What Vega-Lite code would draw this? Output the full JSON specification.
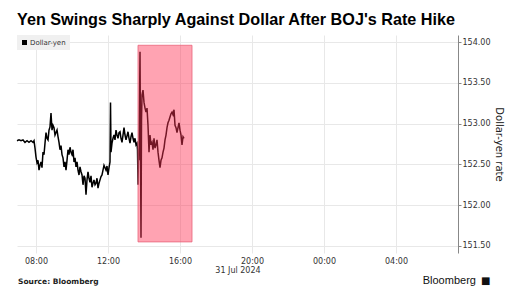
{
  "$schema": "https://vega.github.io/schema/vega-lite/v6.json",
  "autosize": "none",
  "width": 441,
  "height": 218,
  "padding": {"left": 17, "top": 35, "right": 59, "bottom": 43},
  "background": "white",
  "config": {"view": {"stroke": null}, "font": "DejaVu Sans"},
  "title": {
    "text": "Yen Swings Sharply Against Dollar After BOJ's Rate Hike",
    "anchor": "start",
    "frame": "group",
    "font": "Liberation Sans",
    "fontSize": 16.2,
    "fontWeight": "bold",
    "color": "#000000",
    "offset": 7
  },
  "datasets": {
    "fx": [
      {"t": 6.944, "v": 152.79}, {"t": 7.056, "v": 152.80}, {"t": 7.167, "v": 152.79}, {"t": 7.278, "v": 152.80},
      {"t": 7.389, "v": 152.77}, {"t": 7.5, "v": 152.79}, {"t": 7.611, "v": 152.77}, {"t": 7.722, "v": 152.79},
      {"t": 7.833, "v": 152.77}, {"t": 7.889, "v": 152.79}, {"t": 7.944, "v": 152.70}, {"t": 8.0, "v": 152.59},
      {"t": 8.056, "v": 152.52}, {"t": 8.111, "v": 152.55}, {"t": 8.167, "v": 152.43}, {"t": 8.222, "v": 152.49},
      {"t": 8.278, "v": 152.53}, {"t": 8.333, "v": 152.46}, {"t": 8.389, "v": 152.65}, {"t": 8.444, "v": 152.62},
      {"t": 8.5, "v": 152.76}, {"t": 8.556, "v": 152.89}, {"t": 8.611, "v": 152.82}, {"t": 8.667, "v": 152.80},
      {"t": 8.722, "v": 152.92}, {"t": 8.778, "v": 152.96}, {"t": 8.833, "v": 153.13}, {"t": 8.889, "v": 152.92},
      {"t": 8.944, "v": 152.98}, {"t": 9.0, "v": 152.95}, {"t": 9.056, "v": 152.86}, {"t": 9.111, "v": 152.89},
      {"t": 9.167, "v": 152.92}, {"t": 9.222, "v": 152.84}, {"t": 9.278, "v": 152.77}, {"t": 9.333, "v": 152.68},
      {"t": 9.389, "v": 152.73}, {"t": 9.444, "v": 152.62}, {"t": 9.5, "v": 152.58}, {"t": 9.556, "v": 152.47},
      {"t": 9.611, "v": 152.53}, {"t": 9.667, "v": 152.43}, {"t": 9.722, "v": 152.55}, {"t": 9.778, "v": 152.68},
      {"t": 9.833, "v": 152.62}, {"t": 9.889, "v": 152.71}, {"t": 9.944, "v": 152.65}, {"t": 10.0, "v": 152.62},
      {"t": 10.056, "v": 152.68}, {"t": 10.111, "v": 152.53}, {"t": 10.167, "v": 152.58}, {"t": 10.222, "v": 152.47},
      {"t": 10.278, "v": 152.53}, {"t": 10.333, "v": 152.43}, {"t": 10.389, "v": 152.37}, {"t": 10.444, "v": 152.47},
      {"t": 10.5, "v": 152.41}, {"t": 10.556, "v": 152.37}, {"t": 10.611, "v": 152.25}, {"t": 10.667, "v": 152.36},
      {"t": 10.722, "v": 152.33}, {"t": 10.778, "v": 152.13}, {"t": 10.833, "v": 152.31}, {"t": 10.889, "v": 152.41},
      {"t": 10.944, "v": 152.33}, {"t": 11.0, "v": 152.28}, {"t": 11.056, "v": 152.36}, {"t": 11.111, "v": 152.22},
      {"t": 11.167, "v": 152.27}, {"t": 11.222, "v": 152.31}, {"t": 11.278, "v": 152.25}, {"t": 11.333, "v": 152.27},
      {"t": 11.389, "v": 152.33}, {"t": 11.444, "v": 152.21}, {"t": 11.5, "v": 152.27}, {"t": 11.556, "v": 152.31},
      {"t": 11.611, "v": 152.35}, {"t": 11.667, "v": 152.37}, {"t": 11.722, "v": 152.43}, {"t": 11.778, "v": 152.49},
      {"t": 11.833, "v": 152.46}, {"t": 11.889, "v": 152.43}, {"t": 11.944, "v": 152.48}, {"t": 12.0, "v": 152.37},
      {"t": 12.056, "v": 152.46}, {"t": 12.111, "v": 152.53}, {"t": 12.139, "v": 153.26}, {"t": 12.167, "v": 152.65},
      {"t": 12.222, "v": 152.76}, {"t": 12.278, "v": 152.82}, {"t": 12.333, "v": 152.86}, {"t": 12.389, "v": 152.80},
      {"t": 12.444, "v": 152.92}, {"t": 12.5, "v": 152.86}, {"t": 12.556, "v": 152.82}, {"t": 12.611, "v": 152.89},
      {"t": 12.667, "v": 152.90}, {"t": 12.722, "v": 152.82}, {"t": 12.778, "v": 152.77}, {"t": 12.833, "v": 152.86},
      {"t": 12.889, "v": 152.95}, {"t": 12.944, "v": 152.86}, {"t": 13.0, "v": 152.80}, {"t": 13.056, "v": 152.85},
      {"t": 13.111, "v": 152.90}, {"t": 13.167, "v": 152.82}, {"t": 13.222, "v": 152.76}, {"t": 13.278, "v": 152.84},
      {"t": 13.333, "v": 152.89}, {"t": 13.389, "v": 152.82}, {"t": 13.444, "v": 152.77}, {"t": 13.5, "v": 152.82},
      {"t": 13.556, "v": 152.74}, {"t": 13.611, "v": 152.76}, {"t": 13.639, "v": 152.68}, {"t": 13.667, "v": 152.25},
      {"t": 13.694, "v": 152.62}, {"t": 13.722, "v": 152.55}, {"t": 13.778, "v": 153.88}, {"t": 13.833, "v": 151.60},
      {"t": 13.861, "v": 153.04}, {"t": 13.889, "v": 153.35}, {"t": 13.944, "v": 153.41}, {"t": 14.0, "v": 153.26},
      {"t": 14.056, "v": 153.19}, {"t": 14.111, "v": 153.14}, {"t": 14.167, "v": 153.19}, {"t": 14.222, "v": 152.98},
      {"t": 14.278, "v": 152.65}, {"t": 14.333, "v": 152.86}, {"t": 14.389, "v": 152.74}, {"t": 14.444, "v": 152.77},
      {"t": 14.5, "v": 152.68}, {"t": 14.556, "v": 152.82}, {"t": 14.611, "v": 152.70}, {"t": 14.667, "v": 152.74},
      {"t": 14.722, "v": 152.80}, {"t": 14.778, "v": 152.65}, {"t": 14.833, "v": 152.55}, {"t": 14.889, "v": 152.46},
      {"t": 14.944, "v": 152.55}, {"t": 15.0, "v": 152.58}, {"t": 15.056, "v": 152.65}, {"t": 15.111, "v": 152.70},
      {"t": 15.167, "v": 152.80}, {"t": 15.222, "v": 152.86}, {"t": 15.278, "v": 152.95}, {"t": 15.333, "v": 153.01},
      {"t": 15.389, "v": 153.04}, {"t": 15.444, "v": 153.08}, {"t": 15.5, "v": 153.12}, {"t": 15.556, "v": 153.14},
      {"t": 15.611, "v": 153.11}, {"t": 15.667, "v": 153.17}, {"t": 15.722, "v": 152.98}, {"t": 15.778, "v": 152.95},
      {"t": 15.833, "v": 152.89}, {"t": 15.889, "v": 152.95}, {"t": 15.944, "v": 153.01}, {"t": 16.0, "v": 152.92},
      {"t": 16.056, "v": 152.86}, {"t": 16.111, "v": 152.74}, {"t": 16.167, "v": 152.84}, {"t": 16.222, "v": 152.82}
    ],
    "band": [{"x1": 13.667, "x2": 16.667, "y1": 151.55, "y2": 153.96}],
    "notes": [
      {"t": 7.0, "v": 151.03, "label": "Source: Bloomberg", "kind": "source"},
      {"t": 32.44, "v": 151.04, "label": "Bloomberg", "kind": "brand"},
      {"t": 33.25, "v": 151.04, "label": "■", "kind": "icon"}
    ]
  },
  "layer": [
    {
      "data": {"name": "fx"},
      "mark": {"type": "line", "strokeWidth": 1.5, "interpolate": "linear"},
      "encoding": {
        "x": {
          "field": "t", "type": "quantitative",
          "scale": {"domain": [6.944, 31.444], "nice": false, "zero": false},
          "axis": {
            "values": [8, 12, 16, 20, 24, 28],
            "labelExpr": "(datum.value % 24 < 10 ? '0' : '') + (datum.value % 24) + ':00'",
            "title": "31 Jul 2024",
            "titleFont": "DejaVu Sans", "titleFontSize": 8, "titleFontWeight": "normal", "titleColor": "#333333",
            "titlePadding": 1,
            "labelFont": "DejaVu Sans", "labelFontSize": 8, "labelColor": "#333333", "labelPadding": 4,
            "domain": false, "ticks": false,
            "grid": true, "gridColor": "#e8e8e8", "gridWidth": 1
          }
        },
        "y": {
          "field": "v", "type": "quantitative",
          "scale": {"domain": [151.414, 154.086], "nice": false, "zero": false},
          "axis": {
            "orient": "right",
            "values": [151.5, 152, 152.5, 153, 153.5, 154],
            "format": ".2f",
            "title": "Dollar-yen rate",
            "titleFont": "DejaVu Sans", "titleFontSize": 10, "titleFontWeight": "normal", "titleColor": "#222222",
            "titlePadding": 4,
            "labelFont": "DejaVu Sans", "labelFontSize": 8, "labelColor": "#333333", "labelPadding": 1,
            "domain": true, "domainColor": "#888888", "domainWidth": 1,
            "ticks": true, "tickSize": 3, "tickColor": "#888888",
            "grid": true, "gridColor": "#e8e8e8", "gridWidth": 1
          }
        },
        "color": {
          "datum": "Dollar-yen",
          "scale": {"range": ["#000000"]},
          "legend": {
            "title": null,
            "orient": "top-left",
            "offset": 0,
            "fillColor": "#f0f0f0",
            "padding": 4,
            "symbolType": "square",
            "symbolSize": 25,
            "symbolFillColor": "#000000",
            "symbolStrokeWidth": 0,
            "labelFont": "DejaVu Sans",
            "labelFontSize": 7,
            "labelColor": "#333333",
            "labelOffset": 2
          }
        }
      }
    },
    {
      "data": {"name": "band"},
      "mark": {"type": "rect", "fill": "#ff3355", "fillOpacity": 0.45, "stroke": "#e8647a", "strokeWidth": 1, "strokeOpacity": 0.8},
      "encoding": {
        "x": {"field": "x1", "type": "quantitative"},
        "x2": {"field": "x2"},
        "y": {"field": "y1", "type": "quantitative"},
        "y2": {"field": "y2"}
      }
    },
    {
      "data": {"name": "notes"},
      "transform": [{"filter": "datum.kind == 'source'"}],
      "mark": {"type": "text", "align": "left", "baseline": "alphabetic", "font": "DejaVu Sans", "fontSize": 7.5, "fontWeight": "bold", "color": "#222222"},
      "encoding": {
        "x": {"field": "t", "type": "quantitative"},
        "y": {"field": "v", "type": "quantitative"},
        "text": {"field": "label"}
      }
    },
    {
      "data": {"name": "notes"},
      "transform": [{"filter": "datum.kind == 'brand'"}],
      "mark": {"type": "text", "align": "right", "baseline": "alphabetic", "font": "Liberation Sans", "fontSize": 11, "fontWeight": "normal", "color": "#111111"},
      "encoding": {
        "x": {"field": "t", "type": "quantitative"},
        "y": {"field": "v", "type": "quantitative"},
        "text": {"field": "label"}
      }
    },
    {
      "data": {"name": "notes"},
      "transform": [{"filter": "datum.kind == 'icon'"}],
      "mark": {"type": "text", "align": "right", "baseline": "alphabetic", "font": "DejaVu Sans", "fontSize": 10, "color": "#111111"},
      "encoding": {
        "x": {"field": "t", "type": "quantitative"},
        "y": {"field": "v", "type": "quantitative"},
        "text": {"field": "label"}
      }
    }
  ]
}
